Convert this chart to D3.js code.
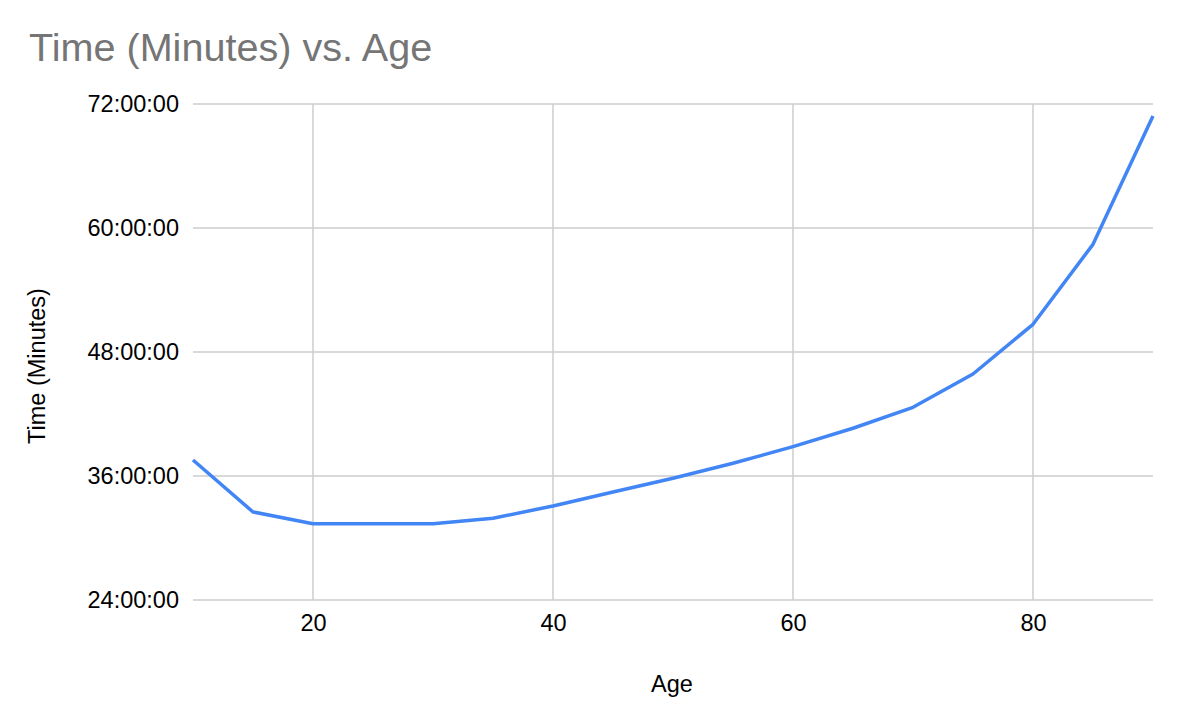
<!DOCTYPE html>
<html>
<head>
<meta charset="utf-8">
<script src="https://cdn.jsdelivr.net/npm/d3@7"></script>
<style>
  html, body { margin: 0; padding: 0; background: #fff; }
  svg { display: block; font-family: Arial, "Liberation Sans", sans-serif; }
</style>
</head>
<body>
<svg id="chart" width="1186" height="720"></svg>
<script>
// Data (time in hours, displayed as HH:MM:SS)
const ages = [10, 15, 20, 25, 30, 35, 40, 45, 50, 55, 60, 65, 70, 75, 80, 85, 90];
const hours = [37.55, 32.52, 31.38, 31.38, 31.38, 31.91, 33.10, 34.45, 35.78, 37.23, 38.84, 40.62, 42.65, 45.87, 50.68, 58.42, 70.84];
const xTicks = [20, 40, 60, 80];
const yTicks = [24, 36, 48, 60, 72];
const titleText = "Time (Minutes) vs. Age";
const xTitle = "Age";
const yTitle = "Time (Minutes)";

(function () {
const svg = d3.select("#chart");
const pL = 193, pR = 1153, pT = 104, pB = 600;

const x = d3.scaleLinear().domain([10, 90]).range([pL, pR]);
const y = d3.scaleLinear().domain([24, 72]).range([pB, pT]);

const fmt = h => String(Math.floor(h)).padStart(2, "0") + ":00:00";

// Title
svg.append("text")
  .attr("x", 29).attr("y", 61)
  .attr("font-size", 39.6).attr("fill", "#757575")
  .text(titleText);

// Grid lines
const gGrid = svg.append("g");
gGrid.selectAll("line.h").data(yTicks).join("line")
  .attr("class", "h")
  .attr("x1", pL).attr("x2", pR)
  .attr("y1", d => y(d)).attr("y2", d => y(d))
  .attr("stroke", "#cccccc").attr("stroke-width", 1.5);
gGrid.selectAll("line.v").data(xTicks).join("line")
  .attr("class", "v")
  .attr("x1", d => x(d)).attr("x2", d => x(d))
  .attr("y1", pT).attr("y2", pB)
  .attr("stroke", "#cccccc").attr("stroke-width", 1.5);

// Y axis labels
const yAxis = d3.axisLeft(y).tickValues(yTicks).tickFormat(fmt).tickSize(0).tickPadding(14);
const gy = svg.append("g").attr("transform", `translate(${pL},0)`).call(yAxis);
gy.select(".domain").remove();
gy.selectAll("text").attr("font-size", 23.5).attr("fill", "#000").attr("font-family", "Arial, 'Liberation Sans', sans-serif");

// X axis labels
const xAxis = d3.axisBottom(x).tickValues(xTicks).tickFormat(d3.format("d")).tickSize(0).tickPadding(14);
const gx = svg.append("g").attr("transform", `translate(0,${pB})`).call(xAxis);
gx.select(".domain").remove();
gx.selectAll("text").attr("font-size", 23.5).attr("fill", "#000").attr("font-family", "Arial, 'Liberation Sans', sans-serif");

// Axis titles
svg.append("text")
  .attr("x", 672).attr("y", 692)
  .attr("text-anchor", "middle")
  .attr("font-size", 23.5).attr("fill", "#000")
  .text(xTitle);
svg.append("text")
  .attr("transform", "translate(45,366) rotate(-90)")
  .attr("text-anchor", "middle")
  .attr("font-size", 23.5).attr("fill", "#000")
  .text(yTitle);

// Line
const line = d3.line().x((d, i) => x(ages[i])).y(d => y(d));
svg.append("path")
  .datum(hours)
  .attr("d", line)
  .attr("fill", "none")
  .attr("stroke", "#4285F4")
  .attr("stroke-width", 3.5)
  .attr("stroke-linejoin", "round");
})();
</script>
</body>
</html>
